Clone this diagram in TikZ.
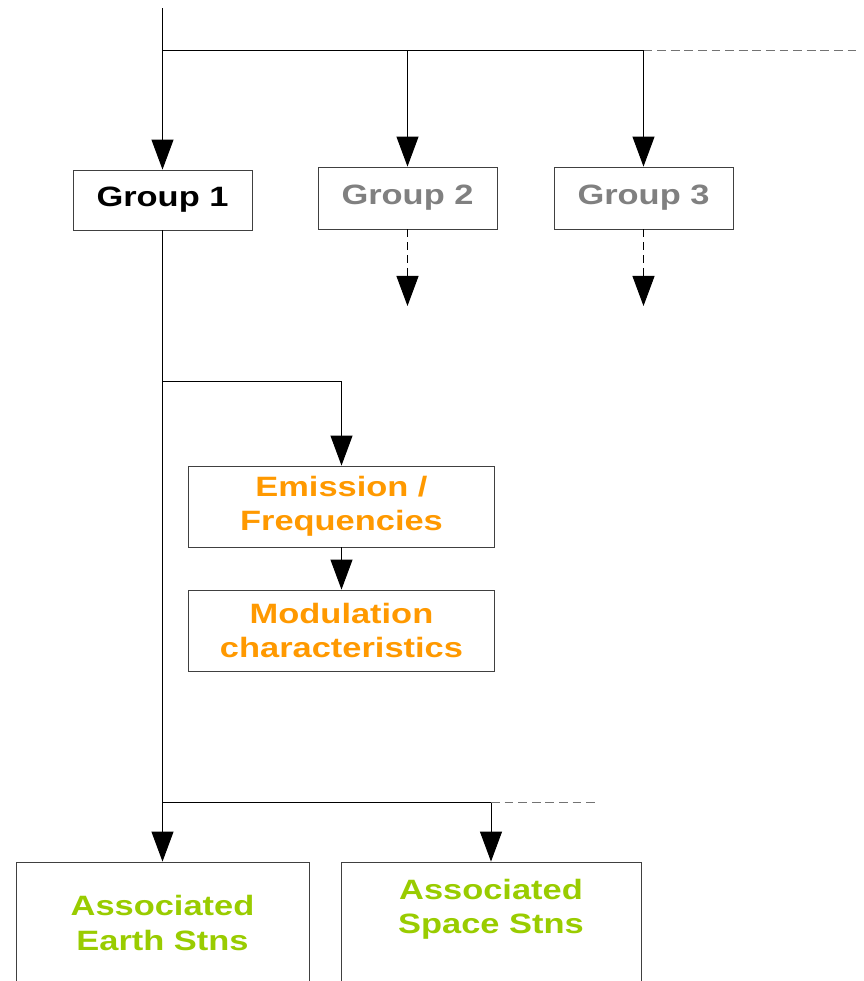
\documentclass[tikz,border=0pt]{standalone}
\usepackage{fontspec}
\newfontfamily\diagfont{Liberation Sans}[FakeStretch=1.23]
\usetikzlibrary{positioning, arrows.meta}
\definecolor{greytext}{HTML}{808080}
\definecolor{orangetext}{HTML}{FF9900}
\definecolor{greentext}{HTML}{99CC00}
\tikzset{
    >={Triangle[width=0.55cm,length=0.75cm]}, % big filled arrow heads
    every node/.style={font=\diagfont\fontsize{19.9}{24.2}\selectfont\bfseries, align=center},
    box/.style={draw=black!75, line width=0.6pt, inner sep=0pt}, % plain rectangle
    link/.style={->, line width=0.7pt},
    dashlink/.style={->, line width=0.7pt, dash pattern=on 0.2cm off 0.12cm},
    trail/.style={draw=black!55, line width=0.7pt, dash pattern=on 0.22cm off 0.12cm}, % line that runs on
}
\begin{document}
\begin{tikzpicture}[x=0.025cm, y=-0.025cm]
    \useasboundingbox (0,0) rectangle (863,981);
    \node[box, minimum width=4.475cm, minimum height=1.5cm] (g1) at (162.5,200) {Group 1};
    \node[box, text=greytext, minimum width=4.475cm, minimum height=1.55cm] (g2) at (407.5,198) {Group 2};
    \node[box, text=greytext, minimum width=4.475cm, minimum height=1.55cm] (g3) at (643.5,198) {Group 3};
    \node[box, text=orangetext, minimum width=7.65cm, minimum height=2.025cm] (emis) at (341.5,506.5) {Emission /\\Frequencies};
    \node[box, text=orangetext, minimum width=7.65cm, minimum height=2.025cm] (modu) at (341.5,630.5) {Modulation\\characteristics};
    \node[box, minimum width=7.325cm, minimum height=3.1cm] (earth) at (162.5,924) {};
    \node[box, minimum width=7.5cm, minimum height=3.1cm] (space) at (491,924) {};
    \node[text=greentext] (earthtxt) at (162.5,923) {Associated\\Earth Stns};
    \node[text=greentext] (spacetxt) at (491,909) {Associated\\Space Stns};
    \coordinate (top) at (162.5,8);
    \coordinate (bus) at (162.5,50);
    \coordinate (busend) at (860,50);
    \coordinate (tap) at (162.5,381);
    \coordinate (low) at (162.5,802);
    \coordinate (lowend) at (598,802);
    \coordinate (out2) at (407.5,306);
    \coordinate (out3) at (643.5,306);
    \draw[link] (top) -- (g1.north);
    \draw[link] (bus) -| (g2.north);
    \draw[link] (bus) -| (g3.north);
    \draw[trail] (g3.north |- bus) -- (busend);
    \draw[dashlink] (g2.south) -- (out2);
    \draw[dashlink] (g3.south) -- (out3);
    \draw[link] (g1.south) -- (earth.north);
    \draw[link] (tap) -| (emis.north);
    \draw[link] (emis) -- (modu);
    \draw[link] (low) -| (space.north);
    \draw[trail] (space.north |- low) -- (lowend);
\end{tikzpicture}
\end{document}
